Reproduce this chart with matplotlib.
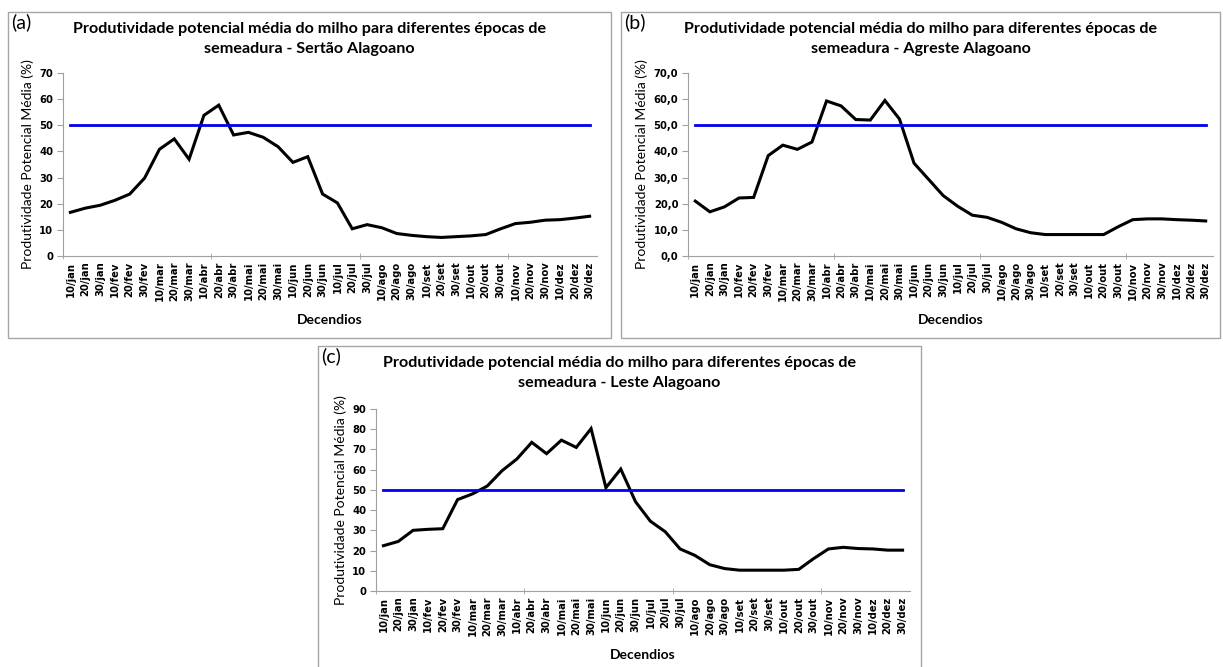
import numpy as np
import matplotlib.pyplot as plt
from matplotlib.patches import Rectangle
from matplotlib.ticker import FuncFormatter

decendios = ['10/jan', '20/jan', '30/jan', '10/fev', '20/fev', '30/fev',
             '10/mar', '20/mar', '30/mar', '10/abr', '20/abr', '30/abr',
             '10/mai', '20/mai', '30/mai', '10/jun', '20/jun', '30/jun',
             '10/jul', '20/jul', '30/jul', '10/ago', '20/ago', '30/ago',
             '10/set', '20/set', '30/set', '10/out', '20/out', '30/out',
             '10/nov', '20/nov', '30/nov', '10/dez', '20/dez', '30/dez']

sertao = [16.7, 18.3, 19.4, 21.3, 23.7, 29.8, 40.8, 44.8, 37.0, 53.8, 57.7, 46.3,
          47.3, 45.4, 41.8, 35.8, 38.0, 23.7, 20.3, 10.4, 12.0, 10.8, 8.6, 7.9,
          7.4, 7.1, 7.4, 7.7, 8.2, 10.4, 12.4, 12.9, 13.7, 13.9, 14.5, 15.2]

agreste = [21.0, 16.9, 18.8, 22.2, 22.4, 38.4, 42.4, 40.8, 43.6, 59.3, 57.4, 52.2,
           52.0, 59.5, 52.4, 35.5, 29.3, 23.1, 19.0, 15.6, 14.8, 12.9, 10.4, 8.9,
           8.2, 8.2, 8.2, 8.2, 8.2, 11.2, 13.9, 14.2, 14.2, 13.9, 13.7, 13.4]

leste = [22.4, 24.5, 30.0, 30.5, 30.8, 45.2, 48.0, 51.9, 59.5, 65.3, 73.5, 67.9,
         74.6, 71.0, 80.3, 51.1, 60.3, 44.1, 34.5, 29.3, 20.8, 17.6, 13.0, 11.1,
         10.3, 10.3, 10.3, 10.3, 10.7, 16.0, 20.8, 21.6, 21.0, 20.8, 20.2, 20.2]

referencia = 50

W, H = 1223, 667
fig = plt.figure(figsize=(W / 100, H / 100), dpi=100)


def px(x, y):
    return x / W, 1 - y / H


def painel(letra, regiao, valores, ymax, dec, caixa, eixo):
    x0, y0, x1, y1 = caixa
    fig.patches.append(Rectangle(px(x0, y1), (x1 - x0) / W, (y1 - y0) / H,
                                 transform=fig.transFigure, fill=False,
                                 edgecolor='#a6a6a6', lw=1))
    cx = (x0 + x1) / 2
    fig.text(*px(x0 + 3, y0 + 10), letra, fontsize=14, family='Lato',
             ha='left', va='center')
    fig.text(*px(cx, y0 + 17),
             'Produtividade potencial média do milho para diferentes épocas de',
             fontsize=11.6, family='Lato', weight='bold', ha='center', va='center')
    fig.text(*px(cx, y0 + 37), 'semeadura - ' + regiao,
             fontsize=11.6, family='Lato', weight='bold', ha='center', va='center')

    l, t, r, b = eixo
    ax = fig.add_axes([l / W, 1 - b / H, (r - l) / W, (b - t) / H])
    x = np.arange(len(decendios))
    ax.plot(x, valores, color='black', lw=2.2, solid_joinstyle='miter')
    ax.plot(x, [referencia] * len(x), color='#0000ee', lw=2)
    ax.set_xlim(-0.5, len(x) - 0.5)
    ax.set_ylim(0, ymax)
    ax.set_yticks(np.arange(0, ymax + 1, 10))
    if dec:
        ax.yaxis.set_major_formatter(FuncFormatter(lambda v, p: f'{v:.1f}'.replace('.', ',')))
    ax.set_xticks(x)
    ax.set_xticklabels(decendios, rotation=90)
    ax.set_xticks([-0.5, 9.5, 19.5, 29.5], minor=True)
    ax.tick_params(axis='x', which='major', length=0, pad=4)
    ax.tick_params(axis='x', which='minor', length=4, direction='inout', color='#a0a0a0')
    ax.tick_params(axis='y', length=4, color='#a0a0a0', pad=3)
    for lab in ax.get_xticklabels() + ax.get_yticklabels():
        lab.set_fontsize(7.2)
        lab.set_fontweight('bold')
        lab.set_family('DejaVu Sans')
    for s in ['top', 'right']:
        ax.spines[s].set_visible(False)
    for s in ['left', 'bottom']:
        ax.spines[s].set_color('#a0a0a0')
    ax.set_ylabel('Produtividade Potencial Média (%)', family='Lato', fontsize=10, labelpad=4)
    fig.text(*px((l + r) / 2, b + 64), 'Decendios', family='Lato', weight='bold',
             fontsize=10, ha='center', va='center')
    return ax


painel('(a)', 'Sertão Alagoano', sertao, 70, False,
       (8, 12, 611, 338), (63, 73, 597, 256))
painel('(b)', 'Agreste Alagoano', agreste, 70, True,
       (621, 12, 1220, 338), (688, 73, 1213, 256))
painel('(c)', 'Leste Alagoano', leste, 90, False,
       (318, 346, 921, 680), (376, 409, 910, 591))

fig.savefig('out.png', dpi=100)
